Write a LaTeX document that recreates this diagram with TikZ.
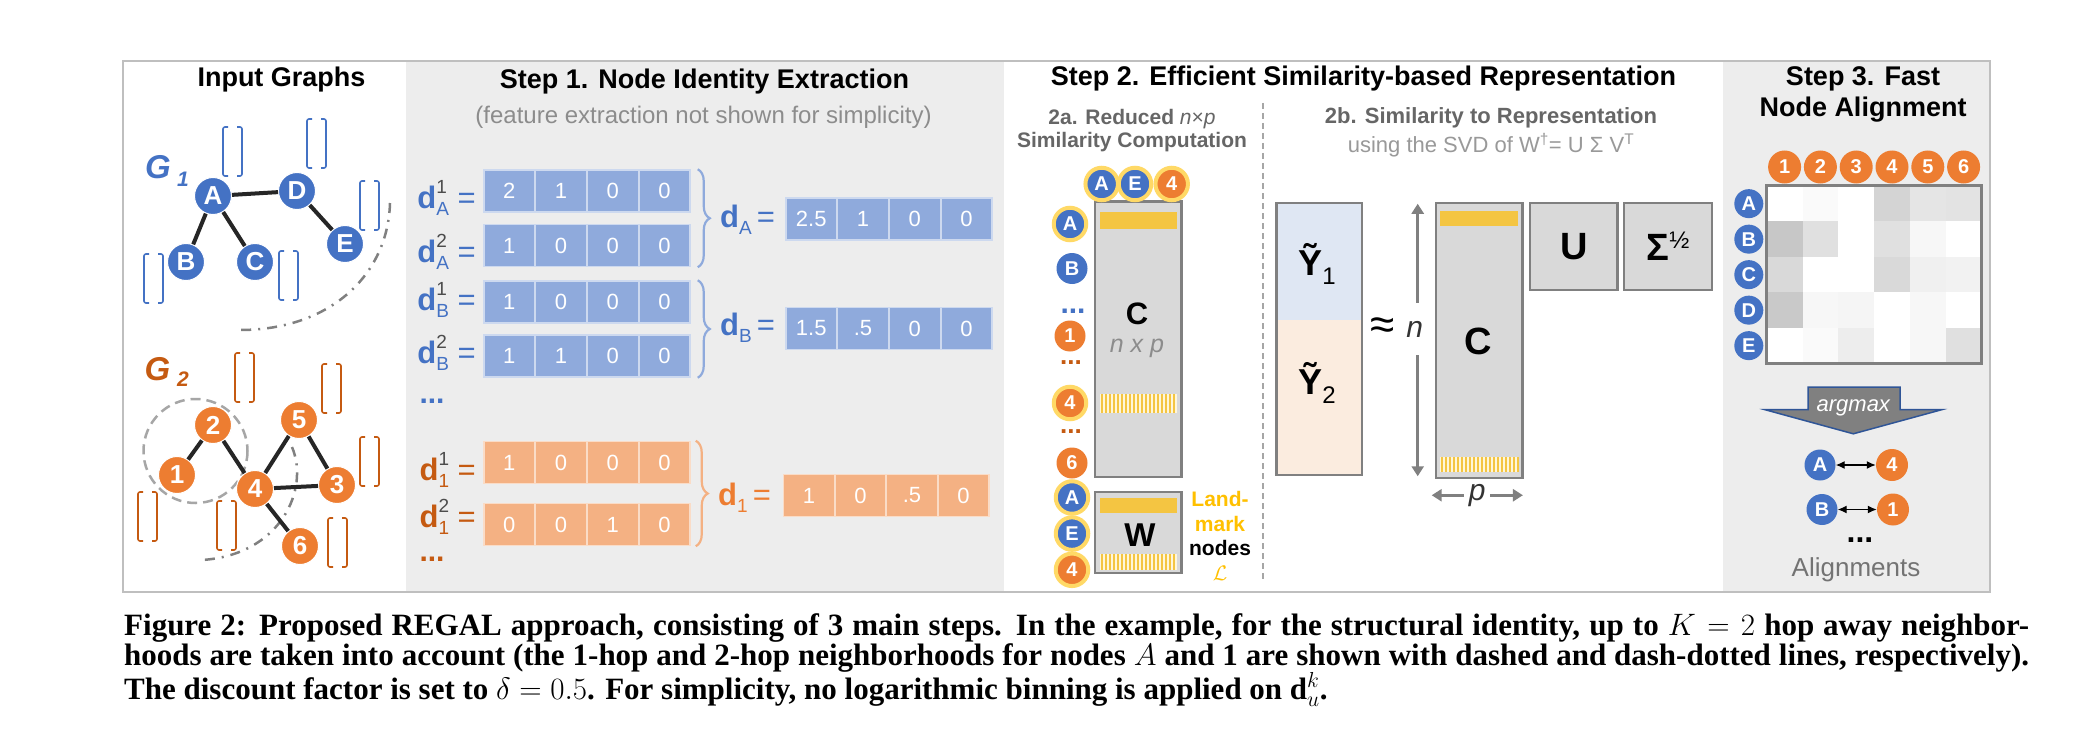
\RequirePackage{fix-cm}
\documentclass[tikz,border=0pt]{standalone}
\usepackage{amsmath}
\usepackage{fontspec}
\setsansfont{Liberation Sans}
\newfontfamily\capfont{Liberation Serif}
\usetikzlibrary{positioning, arrows.meta, decorations.pathreplacing}

\definecolor{blueN}{HTML}{4472C4}
\definecolor{orangeN}{HTML}{ED7D31}
\definecolor{orangeD}{HTML}{C55A11}
\definecolor{blueC}{HTML}{8FAADC}
\definecolor{orangeC}{HTML}{F4B183}
\definecolor{goldY}{HTML}{F4C542}
\definecolor{ringY}{HTML}{FFD966}
\definecolor{landY}{HTML}{FFC000}
\definecolor{paleY}{HTML}{FFF6D9}
\definecolor{panelG}{HTML}{EDEDED}
\definecolor{matG}{HTML}{D9D9D9}
\definecolor{edgeG}{HTML}{808080}
\definecolor{yBlue}{HTML}{DFE7F3}
\definecolor{yOrange}{HTML}{FBECDF}
\definecolor{argB}{HTML}{2F5597}

\newcommand{\fsz}[1]{\fontsize{#1}{#1}\selectfont}
% d vector label: d, sub, sup
\newcommand{\dvec}[2]{\textbf{d}\rlap{\raisebox{15pt}{\fsz{19}\textcolor{black!70}{#2}}}\raisebox{-7pt}{\fsz{19}#1}}

\begin{document}
\begin{tikzpicture}[
    x=1pt, y=-1pt,
    font=\sffamily,
    % Define styles for consistent blocks
    ttl/.style={font=\sffamily\bfseries\fsz{27}, inner sep=0pt},
    gnode/.style={circle, fill=blueN, draw=white, line width=1pt, text=white, font=\sffamily\bfseries\fsz{26}, minimum size=37pt, inner sep=0pt},
    onode/.style={gnode, fill=orangeN},
    gedge/.style={line width=4pt, draw=black!85},
    bvec/.style={draw=blueN, line width=1.6pt, rounded corners=2pt},
    ovec/.style={bvec, draw=orangeD},
    hopone/.style={draw=black!35, line width=2.5pt, dash pattern=on 10pt off 6pt},
    hoptwo/.style={draw=black!50, line width=2.5pt, dash pattern=on 10pt off 7pt on 2pt off 7pt},
    bcell/.style={rectangle, fill=blueC, draw=blueC!45!white, line width=1.5pt, minimum width=51pt, minimum height=42pt, inner sep=0pt, text=white, font=\sffamily\fsz{22}},
    ocell/.style={bcell, fill=orangeC, draw=orangeC!45!white},
    dlab/.style={anchor=base east, inner sep=0pt, font=\sffamily\fsz{31}},
    rlab/.style={anchor=base west, inner sep=0pt, font=\sffamily\fsz{31}},
    slab/.style={circle, fill=blueN, text=white, font=\sffamily\bfseries\fsz{20}, minimum size=31pt, inner sep=0pt},
    olab/.style={slab, fill=orangeN},
    ringed/.style={draw=ringY, line width=4pt, minimum size=32.5pt},
    matbox/.style={rectangle, fill=matG, draw=edgeG, line width=2.5pt, inner sep=0pt},
    dimarr/.style={{Triangle[length=10pt,width=12pt]}-{Triangle[length=10pt,width=12pt]}, draw=edgeG, line width=3pt},
    hcell/.style={rectangle, minimum width=35.8pt, minimum height=35.5pt, inner sep=0pt},
    ellip/.style={font=\sffamily\bfseries\fsz{30}, inner sep=0pt},
    brc/.style={decorate, decoration={brace, amplitude=12pt}, line width=2.2pt}
]

\useasboundingbox (0,0) rectangle (2094,741);
\fill[white] (0,0) rectangle (2094,741);

% --- Panels ---
\fill[panelG] (406,62) rectangle (1004,591);
\fill[panelG] (1723,62) rectangle (1989,591);
\draw[black!25, line width=2.5pt] (123,61) rectangle (1990,592);
\draw[black!35, line width=1.5pt, dash pattern=on 6pt off 4pt] (1263,103) -- (1263,582);

% --- Titles ---
\node[ttl] (tin) at (281.5,80) {Input Graphs};
\node[ttl] (ts1) at (704.5,82) {Step 1. Node Identity Extraction};
\node[font=\sffamily\fsz{24}, text=black!45, inner sep=0pt] (ts1b) at (703.5,117) {(feature extraction not shown for simplicity)};
\node[ttl] (ts2) at (1363.5,79) {Step 2. Efficient Similarity-based Representation};
\node[align=center, inner sep=0pt, text=black!60, font=\sffamily\bfseries\fontsize{21}{23}\selectfont] (t2a) at (1132,131) {2a. Reduced \textmd{\textit{n}×\textit{p}}\\Similarity Computation};
\node[inner sep=0pt, text=black!60, font=\sffamily\bfseries\fsz{22}] (t2b) at (1491,118) {2b. Similarity to Representation};
\node[inner sep=0pt, text=black!40, font=\sffamily\fsz{22}] (t2bs) at (1491,145) {using the SVD of W\textsuperscript{†}= U Σ V\textsuperscript{T}};
\node[ttl, align=center, font=\sffamily\bfseries\fontsize{27}{31}\selectfont] (ts3) at (1863,94) {Step 3. Fast\\Node Alignment};

% --- Input graphs ---
\node[inner sep=0pt, text=blueN, font=\sffamily\bfseries\itshape\fsz{33}] (g1) at (158,167) {G};
\node[inner sep=0pt, text=blueN, font=\sffamily\bfseries\itshape\fsz{21}] (g1s) at (183,179) {1};
\node[inner sep=0pt, text=orangeD, font=\sffamily\bfseries\itshape\fsz{33}] (g2) at (157.5,369) {G};
\node[inner sep=0pt, text=orangeD, font=\sffamily\bfseries\itshape\fsz{21}] (g2s) at (183,379) {2};

% identity vectors
\foreach \x/\y in {223/127, 307/119, 360/181, 144/254, 279/251}{
  \draw[bvec] (\x+5,\y) -- (\x,\y) -- (\x,\y+49) -- (\x+5,\y+49);
  \draw[bvec] (\x+14,\y) -- (\x+19,\y) -- (\x+19,\y+49) -- (\x+14,\y+49);
}
\foreach \x/\y in {235/353, 322/364, 360/437, 138/492, 217/501, 328/518}{
  \draw[ovec] (\x+5,\y) -- (\x,\y) -- (\x,\y+49) -- (\x+5,\y+49);
  \draw[ovec] (\x+14,\y) -- (\x+19,\y) -- (\x+19,\y+49) -- (\x+14,\y+49);
}

% neighborhoods
\draw[hoptwo] (390,203) .. controls (388,275) and (330,330) .. (240,330);
\draw[hopone] (195.5,451) circle [radius=52];
\draw[hoptwo] (292,447) .. controls (310,490) and (280,555) .. (202,560);

% G1
\node[gnode] (A) at (213,196) {A};
\node[gnode] (D) at (297,191) {D};
\node[gnode] (B) at (186,262) {B};
\node[gnode] (C) at (255,262) {C};
\node[gnode] (E) at (345,244) {E};
\draw[gedge] (A) -- (D);
\draw[gedge] (A) -- (B);
\draw[gedge] (A) -- (C);
\draw[gedge] (D) -- (E);

% G2
\node[onode] (n2) at (213,425) {2};
\node[onode] (n1) at (177,475) {1};
\node[onode] (n4) at (255,489) {4};
\node[onode] (n5) at (299,420) {5};
\node[onode] (n3) at (337,485) {3};
\node[onode] (n6) at (300,546) {6};
\draw[gedge] (n1) -- (n2);
\draw[gedge] (n2) -- (n4);
\draw[gedge] (n4) -- (n5);
\draw[gedge] (n5) -- (n3);
\draw[gedge] (n4) -- (n3);
\draw[gedge] (n4) -- (n6);

% --- Step 1 ---
\foreach \v [count=\i] in {2,1,0,0} \node[bcell] (a1\i) at (457.5+51.75*\i,191) {\v};
\foreach \v [count=\i] in {1,0,0,0} \node[bcell] (a2\i) at (457.5+51.75*\i,245.5) {\v};
\foreach \v [count=\i] in {1,0,0,0} \node[bcell] (b1\i) at (457.5+51.75*\i,302) {\v};
\foreach \v [count=\i] in {1,1,0,0} \node[bcell] (b2\i) at (457.5+51.75*\i,356) {\v};
\foreach \v [count=\i] in {1,0,0,0} \node[ocell] (o1\i) at (457.5+51.75*\i,462.5) {\v};
\foreach \v [count=\i] in {0,0,1,0} \node[ocell] (o2\i) at (457.5+51.75*\i,524.5) {\v};

\foreach \v [count=\i] in {2.5,1,0,0} \node[bcell] (ra\i) at (759.5+51.75*\i,219) {\v};
\foreach \v [count=\i] in {1.5,.5,0,0} \node[bcell] (rb\i) at (759.5+51.75*\i,328.5) {\v};
\foreach \v [count=\i] in {1,0,.5,0} \node[ocell] (ro\i) at (757.5+51.5*\i,495.5) {\v};

\node[dlab, text=blueN] (la1) at (476,208) {\dvec{A}{1} =};
\node[dlab, text=blueN] (la2) at (476,262) {\dvec{A}{2} =};
\node[dlab, text=blueN] (lb1) at (476,310) {\dvec{B}{1} =};
\node[dlab, text=blueN] (lb2) at (476,363) {\dvec{B}{2} =};
\node[dlab, text=orangeD] (lo1) at (476,480) {\dvec{1}{1} =};
\node[dlab, text=orangeD] (lo2) at (476,527) {\dvec{1}{2} =};
\node[ellip, text=blueN] (bdots) at (432,401) {...};
\node[ellip, text=orangeD] (odots) at (432,559) {...};

\draw[brc, draw=blueC] ([xshift=7pt]a14.north east) -- ([xshift=7pt]a24.south east);
\draw[brc, draw=blueC] ([xshift=7pt]b14.north east) -- ([xshift=7pt]b24.south east);
\draw[brc, draw=orangeC] ([xshift=5pt]o14.north east) -- ([xshift=5pt]o24.south east);

\node[rlab, text=blueN] (lra) at (720,227) {\textbf{d}\raisebox{-7pt}{\fsz{19}A}\,=};
\node[rlab, text=blueN] (lrb) at (720,335) {\textbf{d}\raisebox{-7pt}{\fsz{19}B}\,=};
\node[rlab, text=orangeN] (lro) at (718,505) {\textbf{d}\raisebox{-7pt}{\fsz{19}1}\,=};

% --- Step 2a ---
\node[matbox, minimum width=86.7pt, minimum height=275.5pt] (cA) at (1138.3,339) {};
\fill[goldY] (1100,211.7) rectangle (1176.7,229);
\fill[paleY] (1100,394) rectangle (1176.7,413);
\foreach \k in {0,...,18} \draw[goldY, line width=2pt] (1101.5+4*\k,394) -- ++(0,19);
\node[font=\sffamily\bfseries\fsz{31}, inner sep=0pt] (cAl) at (1137,314) {C};
\node[font=\sffamily\itshape\fsz{25}, text=black!45, inner sep=0pt] (cAd) at (1137,348) {n x p};

\node[slab, ringed] (tA) at (1101.7,184) {A};
\node[slab, ringed] (tE) at (1135,184) {E};
\node[olab, ringed] (t4) at (1171.7,184) {4};

\node[slab, ringed] (lA) at (1070,224) {A};
\node[slab] (lB) at (1072,268.5) {B};
\node[ellip, text=blueN] (ldb) at (1073,311) {...};
\node[olab] (l1) at (1070,336) {1};
\node[ellip, text=orangeD, font=\sffamily\bfseries\fsz{26}] (ldo1) at (1071,363) {...};
\node[olab, ringed] (l4) at (1070,403) {4};
\node[ellip, text=orangeD, font=\sffamily\bfseries\fsz{26}] (ldo2) at (1071,432) {...};
\node[olab] (l6) at (1072,463) {6};

\node[matbox, minimum width=86.7pt, minimum height=81pt] (wA) at (1138.3,532.5) {};
\fill[goldY] (1100,497.5) rectangle (1176.7,513);
\fill[paleY] (1100,554) rectangle (1176.7,570);
\foreach \k in {0,...,18} \draw[goldY, line width=2pt] (1101.5+4*\k,554) -- ++(0,16);
\node[font=\sffamily\bfseries\fsz{33}, inner sep=0pt] (wAl) at (1140,535) {W};

\node[slab, ringed] (wlA) at (1072,497.5) {A};
\node[slab, ringed] (wlE) at (1072,533.6) {E};
\node[olab, ringed] (wl4) at (1072,569.8) {4};

\node[align=center, inner sep=0pt, text=landY, font=\sffamily\bfseries\fontsize{21}{24.5}\selectfont] (land) at (1220,536) {Land-\\mark\\\textcolor{black}{nodes}\\$\mathcal{L}$};

% --- Step 2b ---
\node[rectangle, fill=yBlue, minimum width=85pt, minimum height=117pt, inner sep=0pt] (y1) at (1319.2,261.5) {};
\node[rectangle, fill=yOrange, minimum width=85pt, minimum height=155pt, inner sep=0pt] (y2) at (1319.2,397.5) {};
\draw[edgeG, line width=2.5pt] (y1.north west) rectangle (y2.south east);
\node[font=\sffamily\bfseries\fsz{36}, inner sep=0pt] (y1l) at (1317,264) {Ỹ\raisebox{-9pt}{\mdseries\fsz{24}1}};
\node[font=\sffamily\bfseries\fsz{36}, inner sep=0pt] (y2l) at (1317,383) {Ỹ\raisebox{-9pt}{\mdseries\fsz{24}2}};
\node[font=\sffamily\fsz{44}, inner sep=0pt] (apx) at (1383,329) {≈};

\node[matbox, minimum width=86.7pt, minimum height=275pt] (cB) at (1479.3,340.5) {};
\fill[goldY] (1440,210.6) rectangle (1518,225.5);
\fill[paleY] (1440,457) rectangle (1518,472);
\foreach \k in {0,...,19} \draw[goldY, line width=2pt] (1441.5+4*\k,457) -- ++(0,15);
\node[font=\sffamily\bfseries\fsz{38}, inner sep=0pt] (cBl) at (1478,341) {C};

\coordinate (ntop) at ([xshift=-17pt,yshift=-2pt]cB.north west);
\coordinate (nbot) at ([xshift=-17pt,yshift=3pt]cB.south west);
\draw[dimarr] (ntop) -- node[pos=0.46, xshift=-3pt, fill=white, inner sep=0pt, minimum width=36pt, minimum height=52pt, font=\sffamily\itshape\fsz{30}, text=black!80] (nlab) {n} (nbot);
\coordinate (pl) at ([xshift=-3pt,yshift=-16pt]cB.south west);
\coordinate (pr) at ([xshift=-1pt,yshift=-16pt]cB.south east);
\draw[dimarr] (pl) -- node[fill=white, inner sep=0pt, minimum width=26pt, minimum height=28pt, font=\sffamily\itshape\fsz{30}, text=black!80] (plab) {p} (pr);

\node[matbox, minimum width=87.7pt, minimum height=87pt, font=\sffamily\bfseries\fsz{38}] (uB) at (1573.8,246.5) {U};
\node[matbox, minimum width=88pt, minimum height=87pt, font=\sffamily\bfseries\fsz{38}] (sB) at (1668,246.5) {Σ\raisebox{12pt}{\mdseries\fsz{24}½}};

% --- Step 3 ---
\foreach \row [count=\j] in {{0,2,0,17,10,11},{22,12,0,12,3,0},{15,0,0,15,6,5},{21,3,4,0,3,0},{0,2,7,0,3,12}}
  \foreach \v [count=\i] in \row
    \node[hcell, fill=black!\v] (h\j-\i) at (1766.7+35.8*\i-17.9, 185.9+35.5*\j-17.75) {};
\draw[edgeG, line width=2.5pt] (h1-1.north west) rectangle (h5-6.south east);
\foreach \i in {1,...,6} \node[olab, minimum size=33pt, above=2pt of h1-\i] (c\i) {\i};
\foreach \l [count=\j] in {A,B,C,D,E} \node[slab, minimum size=29pt, left=3pt of h\j-1] (r\l) {\l};

\draw[fill=black!50, draw=argB, line width=1.5pt] (1808,387) -- (1900,387) -- (1900,409.7) -- (1941.7,409.7) -- (1853.3,433.8) -- (1765,409.7) -- (1808,409.7) -- cycle;
\node[font=\sffamily\itshape\fsz{22}, text=white, inner sep=0pt] (amax) at (1853.3,408) {argmax};

\node[slab, minimum size=31pt] (alA) at (1820,465) {A};
\node[olab, minimum size=32pt] (al4) at (1892,465) {4};
\node[slab, minimum size=31pt] (alB) at (1822,509.5) {B};
\node[olab, minimum size=32pt] (al1) at (1893,509.5) {1};
\draw[{Latex[length=9pt,width=8pt]}-{Latex[length=9pt,width=8pt]}, line width=1.3pt] (alA) -- (al4);
\draw[{Latex[length=9pt,width=8pt]}-{Latex[length=9pt,width=8pt]}, line width=1.3pt] (alB) -- (al1);
\node[ellip, font=\sffamily\bfseries\fsz{32}] (adots) at (1860,540) {...};
\node[font=\sffamily\fsz{26}, text=black!55, inner sep=0pt] (algn) at (1856,570) {Alignments};

% --- Caption ---
\node[anchor=north west, inner sep=0pt, text width=1905pt, align=justify, font=\capfont\bfseries\fontsize{31}{30}\selectfont] (cap) at (124,613) {\hyphenpenalty=10000\relax\tolerance=9999\relax Figure 2: Proposed REGAL approach, consisting of 3 main steps. In the example, for the structural identity, up to $K = 2$ hop away neighbor-\linebreak hoods are taken into account (the 1-hop and 2-hop neighborhoods for nodes $A$ and 1 are shown with dashed and dash-dotted lines, respectively).\linebreak The discount factor is set to $\delta = 0.5$. For simplicity, no logarithmic binning is applied on d$_u^k$.};

\end{tikzpicture}
\end{document}
